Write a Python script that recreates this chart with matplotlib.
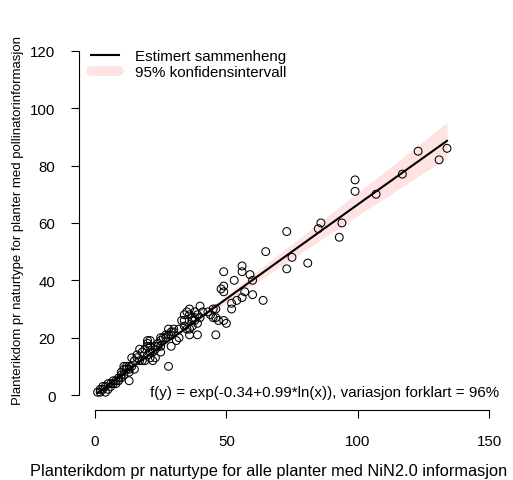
import numpy as np
import matplotlib
matplotlib.use("Agg")
import matplotlib.pyplot as plt
from matplotlib.lines import Line2D

plt.rcParams['font.family'] = ['Liberation Sans', 'DejaVu Sans']

# Species richness per nature type: all plants (x) vs plants with pollinator info (y)
x_all = [1, 2, 2, 3, 3, 4, 4, 5, 5, 6, 6, 7, 7, 8, 8, 9, 9, 10, 10, 10,
         11, 11, 11, 12, 12, 13, 13, 13, 13, 14, 14, 15, 15, 16, 16, 17, 17, 18, 18, 19,
         19, 20, 20, 20, 20, 21, 21, 21, 21,
         22, 22, 23, 23, 23, 24, 24, 25, 25, 25, 25, 26, 27, 27, 28, 28, 28, 29, 29, 29,
         30, 30, 31, 32, 32, 33, 34, 34, 34, 35, 35,
         36, 36, 36, 36, 37, 37, 37, 38, 38, 38, 39, 39, 39, 40, 40, 41, 43, 44, 45, 45,
         46, 46, 46, 47, 48, 49, 49, 49, 49, 50, 52, 52, 53, 54, 56, 56, 56, 57, 59, 60,
         60, 64, 65,
         73, 73, 75, 81, 85, 86, 93, 94, 99, 99, 107, 117, 123, 131, 134]
y_poll = [1, 1, 2, 2, 3, 1, 3, 2, 4, 3, 4, 4, 5, 4, 5, 5, 6, 6, 7, 8,
          7, 9, 10, 9, 10, 8, 9, 10, 5, 10, 13, 9, 12, 13, 14, 16, 12, 12, 15, 12,
          16, 14, 17, 18, 19, 13, 15, 17, 19,
          12, 15, 13, 16, 17, 17, 18, 15, 17, 19, 20, 20, 20, 21, 10, 21, 23, 17, 21, 22,
          22, 23, 19, 20, 23, 26, 24, 26, 28, 23, 29,
          21, 23, 28, 30, 24, 26, 27, 26, 27, 29, 21, 25, 28, 27, 31, 29, 29, 28, 27, 30,
          21, 27, 30, 26, 37, 26, 36, 38, 43, 25, 30, 32, 40, 33, 34, 43, 45, 36, 42, 35,
          40, 33, 50,
          44, 57, 48, 46, 58, 60, 55, 60, 71, 75, 70, 77, 85, 82, 86]

# Model coefficients (log-log regression)
intercept = -0.345
slope = 0.986
formula_text = "f(y) = exp(-0.34+0.99*ln(x)), variasjon forklart = 96%"
legend_labels = ["Estimert sammenheng", "95% konfidensintervall"]
xlabel = "Planterikdom pr naturtype for alle planter med NiN2.0 informasjon"
ylabel = "Planterikdom pr naturtype for planter med pollinatorinformasjon"
x_ticks = [0, 50, 100, 150]
y_ticks = [0, 20, 40, 60, 80, 100, 120]

xa = np.array(x_all, float)
ya = np.array(y_poll, float)
lx, ly = np.log(xa), np.log(ya)
n = len(xa)
resid = ly - (intercept + slope * lx)
s = np.sqrt(np.sum(resid ** 2) / (n - 2))
sxx = np.sum((lx - lx.mean()) ** 2)

xg = np.linspace(xa.min(), xa.max(), 300)
lg = np.log(xg)
fit = intercept + slope * lg
se = s * np.sqrt(1.0 / n + (lg - lx.mean()) ** 2 / sxx)
lo = np.exp(fit - 1.97 * se)
hi = np.exp(fit + 1.97 * se)

W, H = 513, 481
fig = plt.figure(figsize=(W / 100, H / 100), dpi=100)
ax = fig.add_axes([79.2 / W, 1 - 411 / H, (504.8 - 79.2) / W, (411 - 38) / H])
ax.set_xlim(-6, 156)
ax.set_ylim(-5.2, 124.8)

band_col = '#FFE3E3'
ax.fill_between(xg, lo, hi, color=band_col, lw=0, zorder=1)
ax.plot(xg, np.exp(fit), color='black', lw=1.5, zorder=2)
ax.scatter(xa, ya, s=32, facecolors='none', edgecolors='black', linewidths=0.75, zorder=3)

ax.text(87.5, 1.0, formula_text, ha='center', va='center', fontsize=10.9)

for sp in ['top', 'right']:
    ax.spines[sp].set_visible(False)
ax.spines['left'].set_bounds(0, 120)
ax.spines['bottom'].set_bounds(0, 150)
for sp in ['left', 'bottom']:
    ax.spines[sp].set_linewidth(0.8)
ax.set_xticks(x_ticks)
ax.set_yticks(y_ticks)
ax.tick_params(axis='both', direction='out', length=6, width=0.8, labelsize=10.8)
ax.tick_params(axis='x', pad=11)
ax.tick_params(axis='y', pad=11)

fig.text(269 / W, 1 - 472 / H, xlabel, fontsize=11.8, ha='center', va='center')
fig.text(18 / W, 1 - 221 / H, ylabel, fontsize=9.5, ha='center', va='center',
         rotation=90)

handles = [Line2D([], [], color='black', lw=1.5),
           Line2D([], [], color=band_col, lw=7, solid_capstyle='round')]
leg = ax.legend(handles, legend_labels, loc='upper left', frameon=False,
                bbox_to_anchor=(91 / W, 1 - 50 / H), bbox_transform=fig.transFigure,
                borderaxespad=0, borderpad=0, handlelength=1.85, handletextpad=1.05,
                labelspacing=0.12, fontsize=10.9)

fig.savefig('out.png', dpi=100)
